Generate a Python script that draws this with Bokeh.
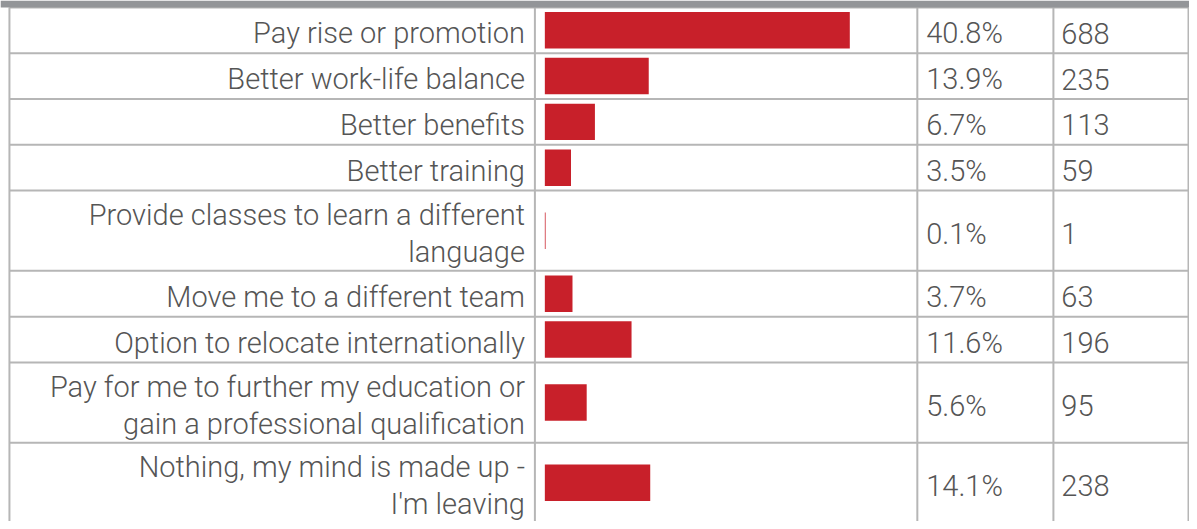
from bokeh.plotting import figure
from bokeh.models import Range1d, ColumnDataSource
from bokeh.embed import file_html
from bokeh.resources import INLINE
from bokeh.core.properties import value

# ---- data ----
labels = [
    "Pay rise or promotion",
    "Better work-life balance",
    "Better benefits",
    "Better training",
    "Provide classes to learn a different\nlanguage",
    "Move me to a different team",
    "Option to relocate internationally",
    "Pay for me to further my education or\ngain a professional qualification",
    "Nothing, my mind is made up -\nI'm leaving",
]
pcts = [40.8, 13.9, 6.7, 3.5, 0.1, 3.7, 11.6, 5.6, 14.1]
counts = [688, 235, 113, 59, 1, 63, 196, 95, 238]

# ---- layout (reference-pixel units, scaled onto the figure by its ranges) ----
RW, RH = 1197, 529
W, H = 1189, 521
ONE_LINE_ROW, TWO_LINE_ROW = 46.5, 81.5
FIRST_TOP = 7.0
BAR_X0 = 548
PX_PER_PCT = 7.525
COL_LINES = [9, 538, 923, 1060, 1196]
FONT = value("Roboto Light")
TXT_COLOR = "#555555"
LINE_COLOR = "#b6b6b6"
BAR_COLOR = "#c8202a"

tops, bottoms = [], []
y = FIRST_TOP
for lab in labels:
    h = TWO_LINE_ROW if "\n" in lab else ONE_LINE_ROW
    tops.append(y)
    y += h
    bottoms.append(y)
centers = [(a + b) / 2 for a, b in zip(tops, bottoms)]

src = ColumnDataSource(dict(
    label=labels,
    pct=pcts,
    pct_lbl=[f"{v:.1f}%" for v in pcts],
    cnt_lbl=[str(c) for c in counts],
    c=centers,
))

p = figure(width=W, height=H, x_range=Range1d(0, RW), y_range=Range1d(RH, 0),
           output_backend="svg", toolbar_location=None, min_border=0,
           x_axis_location=None, y_axis_location=None)
p.grid.visible = False
p.outline_line_color = None
p.background_fill_color = "white"
p.border_fill_color = "white"

p.extra_x_ranges = {"pct": Range1d(-BAR_X0 / PX_PER_PCT, (RW - BAR_X0) / PX_PER_PCT)}

# table grid lines
hy = [tops[0]] + bottoms
p.segment(x0=[COL_LINES[0]] * len(hy), x1=[COL_LINES[-1]] * len(hy), y0=hy, y1=hy,
          line_color=LINE_COLOR, line_width=2)
p.segment(x0=COL_LINES, x1=COL_LINES, y0=[FIRST_TOP] * len(COL_LINES), y1=[RH] * len(COL_LINES),
          line_color=LINE_COLOR, line_width=2)

# header band (cut off at the top)
p.quad(left=[0], right=[RW], top=[0], bottom=[FIRST_TOP], color="#939598", line_color=None)

# bars
p.hbar(y="c", left=0, right="pct", height=37, x_range_name="pct", source=src,
       fill_color=BAR_COLOR, line_color=None)

# texts
common = dict(text_font=FONT, text_font_size="29px", text_color=TXT_COLOR,
              text_baseline="middle", text_line_height=1.08, y_offset=3, source=src)
p.text(x=528, y="c", text="label", text_align="right", **common)
p.text(x=932, y="c", text="pct_lbl", text_align="left", **common)
p.text(x=1068, y="c", text="cnt_lbl", text_align="left", **common)

open("out.html", "w").write(file_html(p, INLINE))
